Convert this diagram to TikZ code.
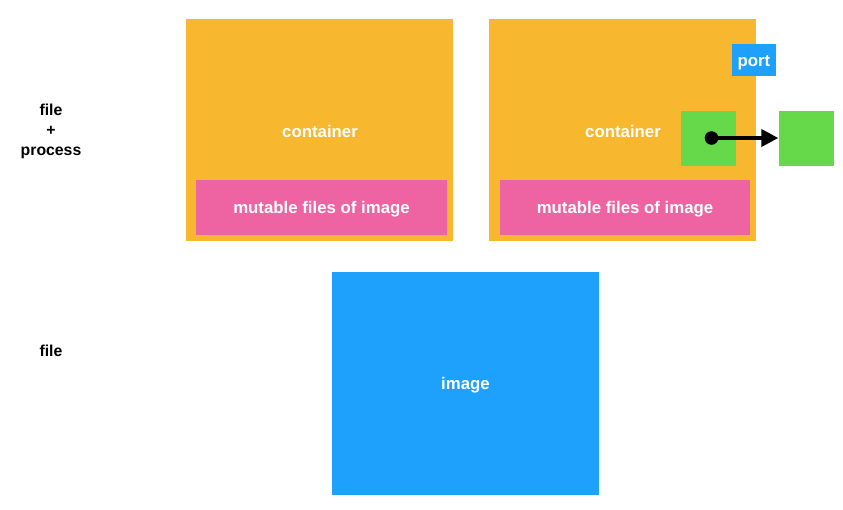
\documentclass[tikz,border=0pt]{standalone}
\usepackage{fontspec}
\setmainfont{Liberation Sans}
\usetikzlibrary{arrows.meta}
\definecolor{corange}{HTML}{F7B72E}
\definecolor{cpink}{HTML}{EE64A3}
\definecolor{cblue}{HTML}{1DA1FC}
\definecolor{cgreen}{HTML}{66D94A}
\tikzset{
  box/.style={inner sep=0pt, outer sep=0pt, font=\fontsize{16.8}{20}\selectfont\bfseries, text=white},
  lbl/.style={font=\fontsize{15.8}{20}\selectfont\bfseries, align=center, text=black},
}
\begin{document}
\begin{tikzpicture}[x=1pt,y=-1pt]
\useasboundingbox[fill=white] (0,0) rectangle (843,509);
% containers
\fill[corange] (186,19) rectangle (453,241);
\node[box] (c1) at (320,131) {container};
\fill[corange] (489,19) rectangle (756,241);
\node[box] (c2) at (623,131) {container};
% mutable
\fill[cpink] (196,180) rectangle (447,235);
\node[box] (m1) at (321.5,209) {mutable files of image};
\fill[cpink] (500,180) rectangle (750,235);
\node[box] (m2) at (625,209) {mutable files of image};
% image
\fill[cblue] (332,272) rectangle (599,495);
\node[box] (img) at (465.5,385) {image};
% port
\fill[cblue] (732,44) rectangle (776,76);
\node[box] (port) at (754,63) {port};
% green squares
\node[fill=cgreen, inner sep=0pt, minimum size=55pt] (g1) at (708.5,138.5) {};
\node[fill=cgreen, inner sep=0pt, minimum size=55pt] (g2) at (806,138.5) {};
\coordinate (dot) at (711.5,138);
\fill[black] (dot) circle (6.8);
\draw[line width=4pt, -{Triangle[length=17pt,width=17pt]}] (dot) -- (g2.west |- dot);
% side labels
\node[lbl] (fp) at (51,131) {file\\+\\process};
\node[lbl] (f) at (51,351) {file};
\end{tikzpicture}
\end{document}
